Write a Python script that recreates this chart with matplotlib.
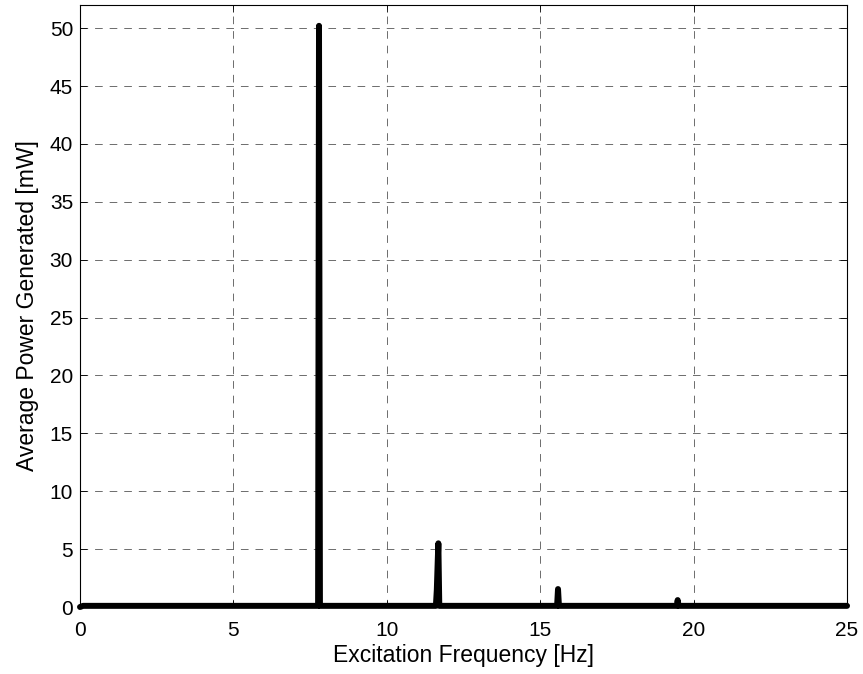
import matplotlib.pyplot as plt

plt.rcParams['font.family'] = ['Liberation Sans', 'DejaVu Sans']
plt.rcParams['font.size'] = 15

# frequency sweep (Hz) and average power (mW), resonances at harmonics
freq = [0.0, 0.1, 7.76, 7.79, 7.82,
        11.6, 11.63, 11.66, 11.68, 11.71,
        15.55, 15.58, 15.61,
        19.45, 19.48, 19.51, 25.0]
power = [0.0, 0.1, 0.1, 50.2, 0.1,
         0.1, 1.5, 4.0, 5.5, 0.1,
         0.1, 1.55, 0.1,
         0.1, 0.6, 0.1, 0.1]

xticks = [0, 5, 10, 15, 20, 25]
yticks = list(range(0, 51, 5))

fig = plt.figure(figsize=(8.63, 6.74), dpi=100)
ax = fig.add_axes([0.0927, 0.0994, 0.8888, 0.8932])

ax.plot(freq, power, color='black', linewidth=4.3, solid_capstyle='round',
        solid_joinstyle='round', clip_on=False, zorder=3)

ax.set_xlim(0, 25)
ax.set_ylim(0, 52)
ax.set_xticks(xticks)
ax.set_yticks(yticks)
ax.tick_params(direction='in', top=True, right=True, length=5, width=0.6)
ax.tick_params(axis='x', pad=10)
ax.tick_params(axis='y', pad=5)
ax.grid(True, color='#333333', linestyle=(0, (11, 10)), linewidth=0.5)
for s in ax.spines.values():
    s.set_linewidth(0.8)

ax.set_xlabel('Excitation Frequency [Hz]', fontsize=16.5, labelpad=3)
ax.set_ylabel('Average Power Generated [mW]', fontsize=16.5, labelpad=8)

fig.savefig('out.png', dpi=100)
